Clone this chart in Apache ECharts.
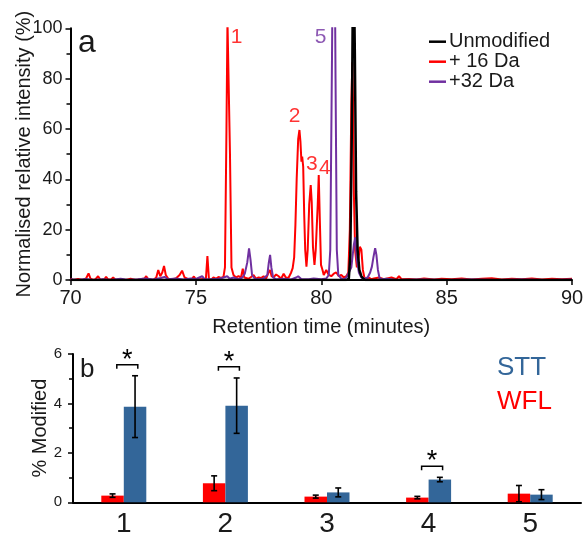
<!DOCTYPE html>
<html>
<head>
<meta charset="utf-8">
<script src="https://cdn.jsdelivr.net/npm/echarts@6/dist/echarts.min.js"></script>
<style>
html,body{margin:0;padding:0;background:#fff;}
#c{width:587px;height:534px;}
</style>
</head>
<body>
<div id="c"></div>
<script>
// ---------- Panel a: extracted ion chromatograms (time in minutes, % intensity) ----------
const seriesNames = ['Unmodified', '+ 16 Da', '+32 Da'];
const unmodified = [[70,0],[81.0,0],[81.1,0.5],[81.16,10],[81.22,60],[81.28,140],[81.34,90],[81.39,35],[81.45,12],[81.52,4],[81.6,1.5],[81.68,0.5],[81.76,0],[90,0]];
const plus16 = [[70.0,0.5],[70.1,0],[70.3,0.4],[70.5,0],[70.62,0.6],[70.72,2.6],[70.8,0.5],[70.9,0],[71.0,0.3],[71.1,1.5],[71.2,0],[71.35,0.3],[71.42,1.3],[71.5,0.2],[71.62,0.2],[71.7,1.0],[71.8,0],[72.0,0.3],[72.2,0],[72.4,0.5],[72.6,0],[72.8,0.3],[72.95,0.6],[73.02,1.5],[73.1,0.3],[73.3,0],[73.42,1.0],[73.5,4.0],[73.58,1.5],[73.66,3.0],[73.73,5.6],[73.8,2.0],[73.9,0.5],[74.05,0.3],[74.2,0.6],[74.35,2.0],[74.45,3.7],[74.55,1.0],[74.7,0.3],[74.85,0.5],[74.92,1.4],[75.0,0.3],[75.2,0.3],[75.4,0.5],[75.46,9.5],[75.52,0.5],[75.6,0],[75.7,1.0],[75.8,0.5],[75.9,1.2],[76.0,0.8],[76.1,1.2],[76.16,5],[76.22,60],[76.26,103],[76.31,103],[76.36,50],[76.42,5],[76.5,2],[76.6,1],[76.7,1.5],[76.8,1],[76.87,4.5],[76.93,1],[77.0,1.5],[77.1,0.5],[77.2,1.2],[77.3,2],[77.4,0.5],[77.5,1],[77.6,0.8],[77.7,1.5],[77.8,0.5],[77.9,3],[77.96,4],[78.02,1.5],[78.1,1],[78.2,2.2],[78.3,1.5],[78.4,0.5],[78.5,2.5],[78.6,0.8],[78.7,1],[78.8,3],[78.86,4.7],[78.92,9],[78.97,22],[79.02,40],[79.08,56],[79.13,59.6],[79.17,55],[79.21,47],[79.24,49],[79.28,45],[79.32,26],[79.36,12],[79.41,5.3],[79.46,12],[79.52,30],[79.58,37.7],[79.62,31],[79.67,13],[79.73,6],[79.78,12],[79.82,21],[79.86,30],[79.9,41.7],[79.94,25],[79.99,6],[80.05,4],[80.1,2],[80.2,4],[80.3,2],[80.4,1.5],[80.5,2.5],[80.6,3],[80.7,1.5],[80.8,2],[80.9,1],[81.0,1.5],[81.08,3],[81.14,20],[81.2,70],[81.24,86.5],[81.27,70],[81.3,35],[81.35,12],[81.42,5],[81.48,8],[81.54,13.2],[81.6,12],[81.66,4],[81.72,1],[81.8,0.5],[81.9,1],[82.0,0.3],[82.1,0.6],[82.3,1],[82.5,0.3],[82.8,1],[83.0,0.3],[83.1,1.5],[83.2,0.3],[83.5,0.4],[83.8,0.2],[84.1,0.6],[84.5,0.2],[84.8,0.5],[85.2,0.3],[85.6,0.6],[86.0,0.2],[86.4,0.5],[86.8,0.7],[87.2,0.2],[87.6,0.5],[88.0,0.3],[88.4,0.6],[88.8,0.2],[89.2,0.5],[89.6,0.3],[90.0,0.5]];
const plus32 = [[70.0,0.3],[70.3,0],[70.6,0.4],[70.9,0],[71.3,0.3],[71.6,0],[72.0,0.5],[72.3,0],[72.7,0.3],[73.0,0.6],[73.3,0.2],[73.6,0.8],[73.75,1.2],[73.9,0.3],[74.2,0.6],[74.5,0.2],[74.8,0.6],[75.0,0.4],[75.25,1.5],[75.35,0.3],[75.6,0.3],[75.9,0.5],[76.1,1.0],[76.25,1.5],[76.35,0.5],[76.5,1.0],[76.7,0.3],[76.85,1],[76.95,2.5],[77.05,7],[77.12,12.6],[77.18,8],[77.24,2],[77.35,0.5],[77.5,0.3],[77.7,0.6],[77.85,2],[77.91,7],[77.96,10],[78.01,5],[78.08,1],[78.2,0.3],[78.5,0.5],[78.8,0.2],[79.0,1],[79.08,1.5],[79.2,0.4],[79.5,0.3],[79.7,0.6],[80.0,0.3],[80.2,0.6],[80.3,2],[80.36,12],[80.43,90],[80.5,185],[80.57,80],[80.62,12],[80.68,2],[80.8,0.5],[80.9,0.3],[81.0,1],[81.1,3],[81.2,5],[81.3,14],[81.36,17],[81.42,8],[81.5,3],[81.6,1],[81.7,0.5],[81.85,1],[81.95,3],[82.02,5.3],[82.08,9],[82.15,12.6],[82.2,10],[82.26,4],[82.32,1],[82.4,0.3],[82.6,0.5],[83.0,0],[84.0,0.2],[85.0,0],[86.0,0.2],[87.0,0],[88.0,0.2],[89.0,0],[90.0,0.2]];
// peak annotations: label, time, intensity
const peakNames = ['1','2','3','4','5'];
const peakTimes = [76.62, 78.94, 79.62, 80.14, 79.97];
const peakLevels = [96.3, 65.2, 46, 44.5, 96.5];
const peakSeries = ['+ 16 Da','+ 16 Da','+ 16 Da','+ 16 Da','+32 Da'];

// ---------- Panel b: % modified per site ----------
const sites = ['1','2','3','4','5'];
const wfl = [0.27, 0.77, 0.23, 0.19, 0.35];
const wflErr = [0.07, 0.30, 0.06, 0.05, 0.33];
const stt = [3.87, 3.91, 0.40, 0.92, 0.31];
const sttErr = [1.25, 1.12, 0.18, 0.09, 0.20];
const significant = ['1','2','4'];

const FONT = 'Liberation Sans';
const C = { unmod:'#000000', p16:'#FF0000', p32:'#7030A0', wfl:'#FF0000', stt:'#336699', text:'#1a1a1a' };
const colorOf = { 'Unmodified':C.unmod, '+ 16 Da':C.p16, '+32 Da':C.p32 };
const BAR_W = 22.5;

const chart = echarts.init(document.getElementById('c'), null, {renderer:'canvas'});

function errRender(offset){
  return function(params, api){
    const i = api.value(0), v = api.value(1), e = api.value(2);
    const cx = api.coord([i, 0])[0] + offset;
    const yt = api.coord([i, v + e])[1];
    const yb = api.coord([i, Math.max(0, v - e)])[1];
    const st = {stroke:'#000', lineWidth:1.6};
    return {type:'group', children:[
      {type:'line', shape:{x1:cx, y1:yt, x2:cx, y2:yb}, style:st},
      {type:'line', shape:{x1:cx-3, y1:yt, x2:cx+3, y2:yt}, style:st},
      {type:'line', shape:{x1:cx-3, y1:yb, x2:cx+3, y2:yb}, style:st}
    ]};
  };
}

const sigData = significant.map(s => {
  const i = sites.indexOf(s);
  return [i, Math.max(stt[i] + sttErr[i], wfl[i] + wflErr[i]) + 0.45];
});

const option = {
  animation:false,
  textStyle:{fontFamily:FONT},
  grid:[
    {left:70.5, right:15, top:28.3, bottom:254, outerBoundsMode:'none', containLabel:false},
    {left:73, right:6, top:354, bottom:31.7, outerBoundsMode:'none', containLabel:false}
  ],
  title:[
    {text:'a', left:73, top:22, textStyle:{fontFamily:FONT, fontSize:32, fontWeight:'normal', color:C.text}},
    {text:'b', left:75, top:352, textStyle:{fontFamily:FONT, fontSize:26, fontWeight:'normal', color:C.text}}
  ],
  legend:[
    {data:seriesNames, orient:'vertical', left:429, top:31.7, padding:0, itemGap:0,
     icon:'rect', itemWidth:17, itemHeight:2.5,
     textStyle:{fontFamily:FONT, fontSize:20, color:C.text, lineHeight:20, padding:[0,0,0,-2]}},
    {data:[{name:'STT', textStyle:{color:C.stt}}, {name:'WFL', textStyle:{color:C.wfl}}],
     orient:'vertical', left:492, top:353, padding:0, itemGap:3.7, icon:'none', itemWidth:0, itemHeight:10,
     textStyle:{fontFamily:FONT, fontSize:26, lineHeight:30}}
  ],
  xAxis:[
    {type:'value', gridIndex:0, min:70, max:90, interval:5,
     axisLine:{show:true, lineStyle:{color:'#000', width:2}},
     axisTick:{show:true, length:5, lineStyle:{color:'#000', width:1.5}},
     axisLabel:{fontFamily:FONT, fontSize:20, color:C.text, margin:8},
     splitLine:{show:false},
     name:'Retention time (minutes)', nameLocation:'middle', nameGap:37, nameMoveOverlap:false,
     nameTextStyle:{fontFamily:FONT, fontSize:20, color:C.text}},
    {type:'category', gridIndex:1, data:sites,
     axisLine:{show:true, lineStyle:{color:'#000', width:2}},
     axisTick:{show:false},
     axisLabel:{fontFamily:FONT, fontSize:28, color:C.text, margin:8}}
  ],
  yAxis:[
    {type:'value', gridIndex:0, min:0, max:100, interval:20,
     axisLine:{show:true, lineStyle:{color:'#000', width:2}},
     axisTick:{show:true, length:5, lineStyle:{color:'#000', width:1.5}},
     minorTick:{show:true, splitNumber:2, length:4, lineStyle:{color:'#000', width:1.5}},
     axisLabel:{fontFamily:FONT, fontSize:18, color:C.text, margin:8},
     splitLine:{show:false},
     name:'Normalised relative intensity (%)', nameLocation:'middle', nameGap:36, nameMoveOverlap:false,
     nameTextStyle:{fontFamily:FONT, fontSize:20, color:C.text}},
    {type:'value', gridIndex:1, min:0, max:6, interval:2,
     axisLine:{show:true, lineStyle:{color:'#000', width:2}},
     axisTick:{show:true, length:5, lineStyle:{color:'#000', width:1.5}},
     minorTick:{show:true, splitNumber:2, length:4, lineStyle:{color:'#000', width:1.5}},
     axisLabel:{fontFamily:FONT, fontSize:15, color:C.text, margin:11},
     splitLine:{show:false},
     name:'% Modified', nameLocation:'middle', nameGap:23, nameMoveOverlap:false,
     nameTextStyle:{fontFamily:FONT, fontSize:20, color:C.text}}
  ],
  series:[
    {name:'+ 16 Da', type:'line', xAxisIndex:0, yAxisIndex:0, data:plus16, showSymbol:false, symbol:'none',
     lineStyle:{color:C.p16, width:2}, itemStyle:{color:C.p16}, z:2},
    {name:'+32 Da', type:'line', xAxisIndex:0, yAxisIndex:0, data:plus32, showSymbol:false, symbol:'none',
     lineStyle:{color:C.p32, width:2}, itemStyle:{color:C.p32}, z:3},
    {name:'Unmodified', type:'line', xAxisIndex:0, yAxisIndex:0, data:unmodified, showSymbol:false, symbol:'none',
     lineStyle:{color:C.unmod, width:2.5}, itemStyle:{color:C.unmod}, z:4},
    {name:'peaks', type:'scatter', xAxisIndex:0, yAxisIndex:0, symbolSize:0, silent:true,
     data: peakNames.map((n,i)=>({name:n, value:[peakTimes[i], peakLevels[i]],
        label:{show:true, position:'inside', formatter:n, fontFamily:FONT, fontSize:21, color:colorOf[peakSeries[i]]}})),
     z:5},
    {name:'WFL', type:'bar', xAxisIndex:1, yAxisIndex:1, data:wfl, barWidth:BAR_W, barGap:'0%',
     itemStyle:{color:C.wfl}},
    {name:'STT', type:'bar', xAxisIndex:1, yAxisIndex:1, data:stt, barWidth:BAR_W, barGap:'0%',
     itemStyle:{color:C.stt}},
    {name:'wflErr', type:'custom', xAxisIndex:1, yAxisIndex:1, silent:true, z:5,
     data: wfl.map((v,i)=>[i, v, wflErr[i]]), renderItem: errRender(-BAR_W/2)},
    {name:'sttErr', type:'custom', xAxisIndex:1, yAxisIndex:1, silent:true, z:5,
     data: stt.map((v,i)=>[i, v, sttErr[i]]), renderItem: errRender(BAR_W/2)},
    {name:'sig', type:'custom', xAxisIndex:1, yAxisIndex:1, silent:true, z:5,
     data: sigData,
     renderItem: function(params, api){
       const p = api.coord([api.value(0), api.value(1)]);
       const x1 = p[0] - 7, x2 = p[0] + 14, y = p[1];
       return {type:'group', children:[
         {type:'polyline', shape:{points:[[x1,y+4],[x1,y],[x2,y],[x2,y+4]]}, style:{stroke:'#000', lineWidth:1.5, fill:null}},
         {type:'text', x:(x1+x2)/2, y:y+9, style:{text:'*', fontFamily:FONT, fontSize:27, fill:'#000', align:'center', verticalAlign:'bottom'}}
       ]};
     }}
  ]
};
chart.setOption(option);
</script>
</body>
</html>
